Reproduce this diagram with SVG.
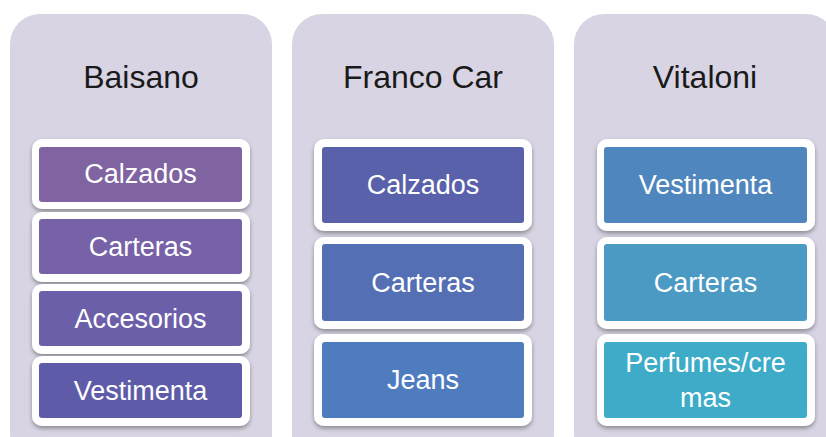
<svg xmlns="http://www.w3.org/2000/svg" width="826" height="437" viewBox="0 0 826 437">
<defs>
<filter id="sh" x="-10%" y="-10%" width="120%" height="130%">
<feDropShadow dx="0" dy="2.5" stdDeviation="2" flood-color="#000" flood-opacity="0.35"/>
</filter>
</defs>
<style>
.panel{fill:#D8D4E3;}
.title{font-family:"Liberation Sans",Arial,sans-serif;font-size:32px;fill:#1a1a1a;text-anchor:middle;}
.frame{fill:#fff;filter:url(#sh);}
.lbl{font-family:"Liberation Sans",Arial,sans-serif;font-size:27px;fill:#fff;text-anchor:middle;}
</style>
<rect width="826" height="437" fill="#fff"/>
<g id="baisano">
<rect class="panel" x="10" y="14" width="262" height="450" rx="30"/>
<text class="title" x="141" y="88">Baisano</text>
</g>
<g id="b-calzados"><rect class="frame" x="32" y="139" width="218" height="70" rx="10"/><rect x="39" y="147" width="203" height="55" rx="3" fill="#8064A2"/><text class="lbl" x="140.5" y="183">Calzados</text></g>
<g id="b-carteras"><rect class="frame" x="32" y="212" width="218" height="70" rx="10"/><rect x="39" y="219" width="203" height="55" rx="3" fill="#7761A7"/><text class="lbl" x="140.5" y="256">Carteras</text></g>
<g id="b-accesorios"><rect class="frame" x="32" y="284" width="218" height="70" rx="10"/><rect x="39" y="291" width="203" height="55" rx="3" fill="#6C5FA9"/><text class="lbl" x="140.5" y="328">Accesorios</text></g>
<g id="b-vestimenta"><rect class="frame" x="32" y="356" width="218" height="70" rx="10"/><rect x="39" y="363" width="203" height="55" rx="3" fill="#5E5BA8"/><text class="lbl" x="140.5" y="400">Vestimenta</text></g>

<g id="francocar">
<rect class="panel" x="292" y="14" width="262" height="450" rx="30"/>
<text class="title" x="423" y="88">Franco Car</text>
</g>
<g id="f-calzados"><rect class="frame" x="314" y="139" width="218" height="92" rx="10"/><rect x="322" y="147" width="202" height="76" rx="3" fill="#5861A9"/><text class="lbl" x="423" y="194">Calzados</text></g>
<g id="f-carteras"><rect class="frame" x="314" y="237" width="218" height="92" rx="10"/><rect x="322" y="244" width="202" height="77" rx="3" fill="#556FB5"/><text class="lbl" x="423" y="292">Carteras</text></g>
<g id="f-jeans"><rect class="frame" x="314" y="334" width="218" height="92" rx="10"/><rect x="322" y="342" width="202" height="76" rx="3" fill="#4F7BBF"/><text class="lbl" x="423" y="389">Jeans</text></g>

<g id="vitaloni">
<rect class="panel" x="574" y="14" width="262" height="450" rx="30"/>
<text class="title" x="705" y="88">Vitaloni</text>
</g>
<g id="v-vestimenta"><rect class="frame" x="597" y="139" width="218" height="92" rx="10"/><rect x="604" y="147" width="203" height="76" rx="3" fill="#4F86BE"/><text class="lbl" x="705.5" y="194">Vestimenta</text></g>
<g id="v-carteras"><rect class="frame" x="597" y="237" width="218" height="92" rx="10"/><rect x="604" y="244" width="203" height="77" rx="3" fill="#4A9AC4"/><text class="lbl" x="705.5" y="292">Carteras</text></g>
<g id="v-perfumes"><rect class="frame" x="597" y="334" width="218" height="92" rx="10"/><rect x="604" y="342" width="203" height="76" rx="3" fill="#3EABC8"/><text class="lbl" x="705.5" y="372">Perfumes/cre</text><text class="lbl" x="705.5" y="407">mas</text></g>
<g id="connectors"/>
</svg>
